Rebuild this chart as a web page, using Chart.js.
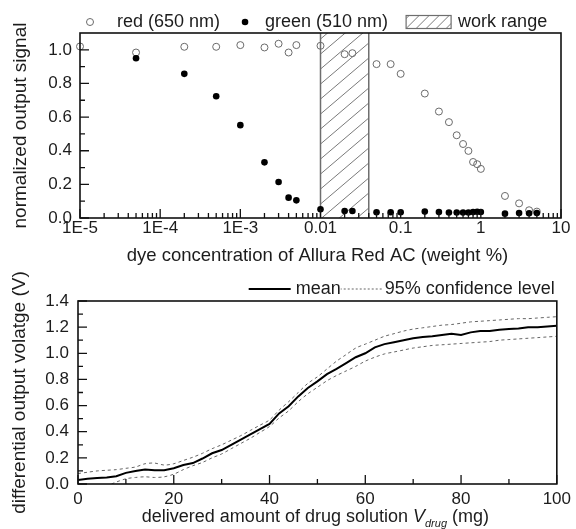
<!DOCTYPE html>
<html>
<head>
<meta charset="utf-8">
<script src="https://cdn.jsdelivr.net/npm/chart.js@4/dist/chart.umd.min.js"></script>
<style>
  html, body { margin: 0; padding: 0; background: #fff; }
  #wrap { position: relative; width: 576px; height: 529px; overflow: hidden; }
  canvas { position: absolute; left: 0; }
</style>
</head>
<body>
<div id="wrap">
  <canvas id="dyeChart" width="576" height="275" style="top:0;width:576px;height:275px"></canvas>
  <canvas id="drugChart" width="576" height="267" style="top:262px;width:576px;height:267px"></canvas>
</div>
<script>
// ---- top panel: normalized signal vs dye concentration ----
const redConc = [1e-5, 5e-5, 2e-4, 5e-4, 1e-3, 2e-3, 3e-3, 4e-3, 5e-3, 0.01, 0.02, 0.025, 0.05, 0.075, 0.1,
  0.2, 0.3, 0.4, 0.5, 0.6, 0.7, 0.8, 0.9, 1, 2, 3, 4, 5];
const redSignal = [1.02, 0.984, 1.018, 1.018, 1.028, 1.014, 1.036, 0.984, 1.028, 1.024, 0.974, 0.98, 0.915, 0.915, 0.857,
  0.74, 0.633, 0.57, 0.492, 0.44, 0.399, 0.333, 0.32, 0.292, 0.131, 0.087, 0.046, 0.038];
const greenConc = [5e-5, 2e-4, 5e-4, 1e-3, 2e-3, 3e-3, 4e-3, 5e-3, 0.01, 0.02, 0.025, 0.05, 0.075, 0.1,
  0.2, 0.3, 0.4, 0.5, 0.6, 0.7, 0.8, 0.9, 1, 2, 3, 4, 5];
const greenSignal = [0.95, 0.857, 0.724, 0.552, 0.331, 0.214, 0.121, 0.105, 0.052, 0.042, 0.042, 0.034, 0.034, 0.034,
  0.038, 0.035, 0.033, 0.033, 0.033, 0.033, 0.035, 0.037, 0.036, 0.026, 0.03, 0.028, 0.03];
const workRange = [0.01, 0.04];

const dyeXTicks = [1e-5, 1e-4, 1e-3, 0.01, 0.1, 1, 10];
const dyeXLabels = ['1E-5', '1E-4', '1E-3', '0.01', '0.1', '1', '10'];
const dyeYTicks = [0, 0.2, 0.4, 0.6, 0.8, 1.0];

// ---- bottom panel: differential output vs delivered amount ----
const meanX = [0, 2, 4, 6, 8, 10, 12, 14, 16, 18, 20, 22, 24, 26, 28, 30, 32, 34, 36, 38, 40, 42, 44, 46, 48, 50,
  52, 54, 56, 58, 60, 62, 64, 66, 68, 70, 72, 74, 76, 78, 80, 82, 84, 86, 88, 90, 92, 94, 96, 98, 100];
const meanV = [0.03, 0.04, 0.045, 0.05, 0.06, 0.085, 0.1, 0.11, 0.105, 0.105, 0.12, 0.145, 0.16, 0.195, 0.235, 0.26,
  0.3, 0.34, 0.38, 0.42, 0.46, 0.54, 0.595, 0.67, 0.735, 0.785, 0.84, 0.88, 0.925, 0.97, 1.0, 1.045, 1.07, 1.085,
  1.1, 1.115, 1.125, 1.13, 1.14, 1.15, 1.14, 1.16, 1.17, 1.17, 1.18, 1.185, 1.19, 1.2, 1.2, 1.205, 1.21];
const upperV = [0.08, 0.09, 0.1, 0.105, 0.11, 0.12, 0.13, 0.155, 0.16, 0.145, 0.155, 0.18, 0.205, 0.235, 0.27, 0.3,
  0.335, 0.37, 0.41, 0.45, 0.49, 0.565, 0.63, 0.7, 0.77, 0.82, 0.88, 0.94, 0.99, 1.04, 1.07, 1.1, 1.13, 1.15, 1.17,
  1.185, 1.195, 1.205, 1.215, 1.22, 1.23, 1.24, 1.245, 1.25, 1.255, 1.26, 1.265, 1.265, 1.27, 1.275, 1.28];
const lowerX = [7, 8, 10, 12, 14, 16, 18, 20, 22, 24, 26, 28, 30, 32, 34, 36, 38, 40, 42, 44, 46, 48, 50,
  52, 54, 56, 58, 60, 62, 64, 66, 68, 70, 72, 74, 76, 78, 80, 82, 84, 86, 88, 90, 92, 94, 96, 98, 100];
const lowerV = [0.0, 0.015, 0.04, 0.05, 0.055, 0.05, 0.055, 0.075, 0.11, 0.14, 0.165, 0.2, 0.23, 0.27, 0.31, 0.35,
  0.395, 0.44, 0.505, 0.56, 0.63, 0.69, 0.74, 0.79, 0.83, 0.865, 0.9, 0.94, 0.97, 0.995, 1.01, 1.025, 1.04, 1.05,
  1.06, 1.065, 1.07, 1.075, 1.08, 1.085, 1.09, 1.1, 1.105, 1.11, 1.115, 1.12, 1.125, 1.13];

const drugXTicks = [0, 20, 40, 60, 80, 100];
const drugYTicks = [0, 0.2, 0.4, 0.6, 0.8, 1.0, 1.2, 1.4];

const FONT = '"Liberation Sans", Arial, sans-serif';
const INK = '#1c1c1c';

const toPoints = (xs, ys) => xs.map((x, i) => ({ x: x, y: ys[i] }));

// minor tick positions (axis decoration only)
const dyeXMinor = [];
for (let d = -5; d < 1; d++) for (let k = 2; k <= 9; k++) dyeXMinor.push(k * Math.pow(10, d));
const stepList = (a, b, s) => { const r = []; for (let v = a; v <= b + 1e-9; v += s) r.push(+v.toFixed(4)); return r; };

// frame + inward ticks
const framePlugin = {
  id: 'frame',
  afterDraw(chart, args, opts) {
    const { ctx, chartArea: a, scales: { x, y } } = chart;
    ctx.save();
    ctx.strokeStyle = '#111';
    ctx.lineWidth = 1.3;
    ctx.beginPath();
    opts.xMajor.forEach(v => { const p = x.getPixelForValue(v); ctx.moveTo(p, a.bottom); ctx.lineTo(p, a.bottom - opts.majorLen); });
    opts.xMinor.forEach(v => { const p = x.getPixelForValue(v); ctx.moveTo(p, a.bottom); ctx.lineTo(p, a.bottom - opts.minorLen); });
    opts.yMajor.forEach(v => { const p = y.getPixelForValue(v); ctx.moveTo(a.left, p); ctx.lineTo(a.left + opts.majorLen, p); });
    opts.yMinor.forEach(v => { const p = y.getPixelForValue(v); ctx.moveTo(a.left, p); ctx.lineTo(a.left + opts.minorLen, p); });
    ctx.stroke();
    ctx.lineWidth = 1.6;
    ctx.strokeRect(a.left, a.top, a.right - a.left, a.bottom - a.top);
    ctx.restore();
  }
};

// axis titles drawn by hand (one needs italic/subscript)
function drawYTitle(chart, text, xc) {
  const { ctx, chartArea: a } = chart;
  ctx.save();
  ctx.fillStyle = INK;
  ctx.font = '19px ' + FONT;
  ctx.textAlign = 'center';
  ctx.textBaseline = 'middle';
  ctx.translate(xc, (a.top + a.bottom) / 2);
  ctx.rotate(-Math.PI / 2);
  ctx.fillText(text, 0, 0);
  ctx.restore();
}

// work-range hatch band
const hatchPlugin = {
  id: 'hatch',
  beforeDatasetsDraw(chart) {
    const { ctx, chartArea: a, scales: { x } } = chart;
    const x1 = x.getPixelForValue(workRange[0]);
    const x2 = x.getPixelForValue(workRange[1]);
    ctx.save();
    ctx.beginPath();
    ctx.rect(x1, a.top, x2 - x1, a.bottom - a.top);
    ctx.clip();
    ctx.strokeStyle = '#7a7a7a';
    ctx.lineWidth = 1;
    const w = x2 - x1, slope = 0.85, gap = 15;
    ctx.beginPath();
    for (let yy = a.top - 80; yy < a.bottom + 80; yy += gap) {
      ctx.moveTo(x1, yy + w * slope);
      ctx.lineTo(x2, yy);
    }
    ctx.stroke();
    ctx.restore();
    ctx.save();
    ctx.strokeStyle = '#6e6e6e';
    ctx.lineWidth = 1.5;
    ctx.beginPath();
    ctx.moveTo(x1, a.top); ctx.lineTo(x1, a.bottom);
    ctx.moveTo(x2, a.top); ctx.lineTo(x2, a.bottom);
    ctx.stroke();
    ctx.restore();
  },
  afterDraw(chart) {
    const { ctx, chartArea: a } = chart;
    ctx.save();
    ctx.font = '18px ' + FONT;
    ctx.fillStyle = INK;
    ctx.textBaseline = 'middle';
    const ly = a.top - 11;
    let cx = a.left + 10;
    // red (open circle)
    ctx.beginPath(); ctx.arc(cx, ly, 3.5, 0, Math.PI * 2);
    ctx.strokeStyle = '#6a6a6a'; ctx.lineWidth = 1; ctx.stroke();
    cx += 27;
    ctx.fillText('red (650 nm)', cx, ly);
    cx += ctx.measureText('red (650 nm)').width + 25;
    ctx.beginPath(); ctx.arc(cx, ly, 3.3, 0, Math.PI * 2); ctx.fillStyle = '#000'; ctx.fill();
    ctx.fillStyle = INK;
    cx += 20;
    ctx.fillText('green (510 nm)', cx, ly);
    cx += ctx.measureText('green (510 nm)').width + 18;
    // hatched box
    const bw = 45, bh = 13, by = ly - 6.5;
    ctx.save();
    ctx.beginPath(); ctx.rect(cx, by, bw, bh); ctx.clip();
    ctx.strokeStyle = '#7a7a7a'; ctx.lineWidth = 1;
    ctx.beginPath();
    for (let k = -20; k < bw + 20; k += 10) { ctx.moveTo(cx + k, by + bh); ctx.lineTo(cx + k + bh, by); }
    ctx.stroke();
    ctx.restore();
    ctx.strokeStyle = '#6e6e6e'; ctx.lineWidth = 1.2;
    ctx.strokeRect(cx, by, bw, bh);
    cx += bw + 7;
    ctx.fillText('work range', cx, ly);
    ctx.restore();

    drawYTitle(chart, 'normalized output signal', 21);
    ctx.save();
    ctx.font = '18.5px ' + FONT;
    ctx.fillStyle = INK;
    ctx.textAlign = 'center';
    ctx.textBaseline = 'alphabetic';
    ctx.fillText('dye concentration of Allura Red AC (weight %)', (a.left + a.right) / 2 - 3, a.bottom + 43);
    ctx.restore();
  }
};

new Chart(document.getElementById('dyeChart'), {
  type: 'scatter',
  data: {
    datasets: [{
      label: 'green (510 nm)',
      data: toPoints(greenConc, greenSignal),
      pointRadius: 3.3,
      backgroundColor: '#000',
      borderColor: '#000',
      borderWidth: 0,
      clip: false,
      order: 0
    }, {
      label: 'red (650 nm)',
      data: toPoints(redConc, redSignal),
      pointRadius: 3.5,
      backgroundColor: 'rgba(255,255,255,0)',
      borderColor: '#6a6a6a',
      borderWidth: 1,
      clip: false,
      order: 1
    }]
  },
  options: {
    responsive: false,
    animation: false,
    layout: { padding: { top: 33, right: 15, left: 0, bottom: 0 } },
    plugins: { legend: { display: false }, tooltip: { enabled: false },
      frame: { xMajor: dyeXTicks, xMinor: dyeXMinor, yMajor: dyeYTicks, yMinor: stepList(0.1, 1.0, 0.2), majorLen: 9, minorLen: 5 } },
    scales: {
      x: {
        type: 'logarithmic', min: 1e-5, max: 10,
        grid: { display: false, drawTicks: false },
        border: { display: false },
        afterBuildTicks: s => { s.ticks = dyeXTicks.map(v => ({ value: v })); },
        afterFit: s => { s.height = 57; },
        ticks: { autoSkip: false, maxRotation: 0, padding: 0, color: INK, font: { size: 17, family: FONT },
          callback: (v, i) => dyeXLabels[i] }
      },
      y: {
        min: 0, max: 1.1,
        grid: { display: false, drawTicks: false },
        border: { display: false },
        afterBuildTicks: s => { s.ticks = dyeYTicks.map(v => ({ value: v })); },
        afterFit: s => { s.width = 80; },
        ticks: { autoSkip: false, padding: 8, color: INK, font: { size: 17, family: FONT },
          callback: v => v.toFixed(1) }
      }
    }
  },
  plugins: [hatchPlugin, framePlugin]
});

// bottom legend + titles
const drugTextPlugin = {
  id: 'drugText',
  afterDraw(chart) {
    const { ctx, chartArea: a } = chart;
    ctx.save();
    ctx.font = '18px ' + FONT;
    ctx.fillStyle = INK;
    ctx.textBaseline = 'middle';
    const ly = a.top - 12;
    let cx = a.right - 2;
    const t2 = '95% confidence level';
    cx -= ctx.measureText(t2).width;
    ctx.fillText(t2, cx, ly);
    // dotted sample
    ctx.strokeStyle = '#666'; ctx.lineWidth = 1; ctx.setLineDash([2, 2]);
    ctx.beginPath(); ctx.moveTo(cx - 3, ly); ctx.lineTo(cx - 44, ly); ctx.stroke();
    ctx.setLineDash([]);
    cx -= 44;
    cx -= ctx.measureText('mean').width;
    ctx.fillText('mean', cx, ly);
    ctx.strokeStyle = '#000'; ctx.lineWidth = 2;
    ctx.beginPath(); ctx.moveTo(cx - 5, ly); ctx.lineTo(cx - 47, ly); ctx.stroke();
    ctx.restore();

    drawYTitle(chart, 'differential output volatge (V)', 20);

    // x title with italic V and subscript
    ctx.save();
    ctx.fillStyle = INK;
    ctx.textBaseline = 'alphabetic';
    const parts = [
      { t: 'delivered amount of drug solution ', f: '18px ' + FONT, dy: 0 },
      { t: 'V', f: 'italic 18px ' + FONT, dy: 0 },
      { t: 'drug', f: 'italic 11px ' + FONT, dy: 5 },
      { t: ' (mg)', f: '18px ' + FONT, dy: 0 }
    ];
    let total = 0;
    parts.forEach(p => { ctx.font = p.f; total += ctx.measureText(p.t).width; });
    let tx = (a.left + a.right) / 2 - 2 - total / 2;
    const base = a.bottom + 38;
    parts.forEach(p => { ctx.font = p.f; ctx.fillText(p.t, tx, base + p.dy); tx += ctx.measureText(p.t).width; });
    ctx.restore();
  }
};

new Chart(document.getElementById('drugChart'), {
  type: 'line',
  data: {
    datasets: [{
      label: 'mean',
      data: toPoints(meanX, meanV),
      borderColor: '#000',
      borderWidth: 2,
      pointRadius: 0,
      tension: 0,
      order: 0
    }, {
      label: '95% confidence level',
      data: toPoints(meanX, upperV),
      borderColor: '#666',
      borderWidth: 1,
      borderDash: [3, 3],
      pointRadius: 0,
      tension: 0.3,
      order: 1
    }, {
      label: '95% confidence level (lower)',
      data: toPoints(lowerX, lowerV),
      borderColor: '#666',
      borderWidth: 1,
      borderDash: [3, 3],
      pointRadius: 0,
      tension: 0.3,
      order: 2
    }]
  },
  options: {
    responsive: false,
    animation: false,
    layout: { padding: { top: 39, right: 16, left: 0, bottom: 0 } },
    plugins: { legend: { display: false }, tooltip: { enabled: false },
      frame: { xMajor: drugXTicks, xMinor: stepList(10, 90, 20), yMajor: drugYTicks, yMinor: stepList(0.1, 1.3, 0.2), majorLen: 9, minorLen: 5 } },
    scales: {
      x: {
        type: 'linear', min: 0, max: 100,
        grid: { display: false, drawTicks: false },
        border: { display: false },
        afterBuildTicks: s => { s.ticks = drugXTicks.map(v => ({ value: v })); },
        afterFit: s => { s.height = 45; },
        ticks: { autoSkip: false, maxRotation: 0, padding: 5, color: INK, font: { size: 17, family: FONT } }
      },
      y: {
        min: 0, max: 1.4,
        grid: { display: false, drawTicks: false },
        border: { display: false },
        afterBuildTicks: s => { s.ticks = drugYTicks.map(v => ({ value: v })); },
        afterFit: s => { s.width = 78; },
        ticks: { autoSkip: false, padding: 9, color: INK, font: { size: 17, family: FONT },
          callback: v => v.toFixed(1) }
      }
    }
  },
  plugins: [framePlugin, drugTextPlugin]
});
</script>
</body>
</html>
